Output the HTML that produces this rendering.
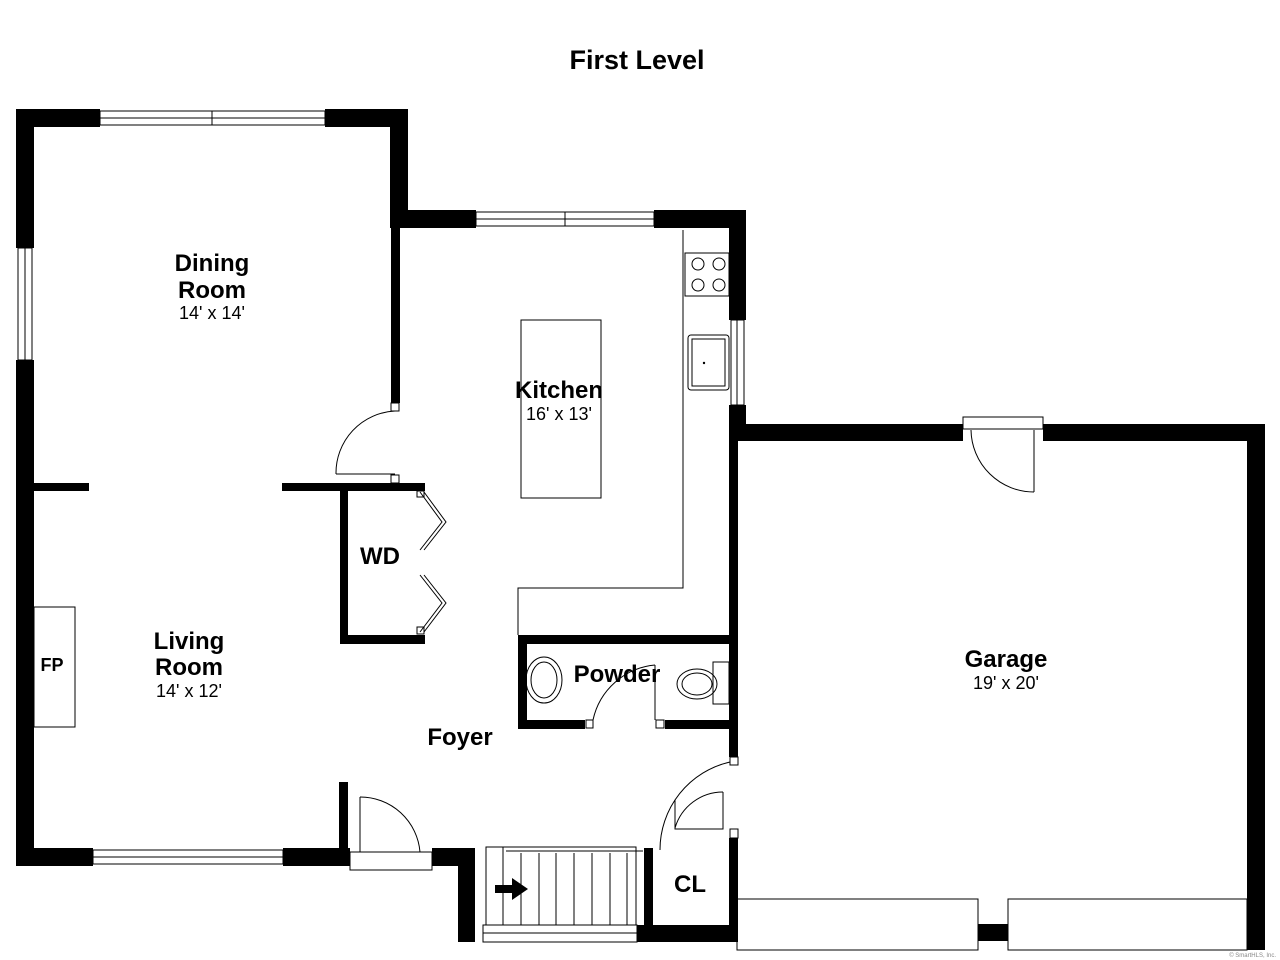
<!DOCTYPE html>
<html><head><meta charset="utf-8"><style>
html,body{margin:0;padding:0;background:#fff;width:1280px;height:960px;overflow:hidden}
text{font-family:"Liberation Sans",sans-serif;fill:#000}
.b{font-weight:bold;font-size:24px}
.s{font-size:18px}
</style></head><body>
<svg width="1280" height="960" viewBox="0 0 1280 960" xmlns="http://www.w3.org/2000/svg">
<text x="637" y="69" text-anchor="middle" style="font-weight:bold;font-size:27px">First Level</text>
<g fill="#000">
<!-- dining/living exterior -->
<rect x="16" y="109" width="84" height="18"/>
<rect x="325" y="109" width="83" height="18"/>
<rect x="16" y="109" width="18" height="139"/>
<rect x="16" y="360" width="18" height="506"/>
<rect x="16" y="848" width="77" height="18"/>
<rect x="283" y="848" width="67" height="18"/>
<rect x="390" y="109" width="18" height="119"/>
<rect x="391" y="200" width="9" height="203"/>
<!-- kitchen top -->
<rect x="400" y="210" width="76" height="18"/>
<rect x="654" y="210" width="92" height="18"/>
<rect x="729" y="210" width="17" height="110"/>
<rect x="729" y="405" width="17" height="20"/>
<!-- garage -->
<rect x="729" y="424" width="234" height="17"/>
<rect x="1043" y="424" width="222" height="17"/>
<rect x="1247" y="424" width="18" height="526"/>
<rect x="729" y="424" width="9" height="333"/>
<rect x="729" y="838" width="9" height="104"/>
<rect x="978" y="924" width="30" height="17"/>
<!-- interior -->
<rect x="34" y="483" width="55" height="8"/>
<rect x="282" y="483" width="143" height="8"/>
<rect x="340" y="491" width="8" height="153"/>
<rect x="340" y="635" width="85" height="9"/>
<rect x="518" y="635" width="211" height="9"/>
<rect x="518" y="635" width="9" height="94"/>
<rect x="518" y="720" width="67" height="9"/>
<rect x="665" y="720" width="64" height="9"/>
<rect x="339" y="782" width="9" height="70"/>
<rect x="432" y="848" width="43" height="18"/>
<rect x="458" y="848" width="17" height="94"/>
<rect x="637" y="925" width="101" height="17"/>
<rect x="644" y="848" width="9" height="94"/>
</g>
<g fill="none" stroke="#000" stroke-width="1">
<!-- windows -->
<rect x="100" y="111" width="225" height="14"/><line x1="100" y1="118" x2="325" y2="118"/><line x1="212" y1="111" x2="212" y2="125"/>
<rect x="18" y="248" width="14" height="112"/><line x1="25" y1="248" x2="25" y2="360"/>
<rect x="93" y="850" width="190" height="14"/><line x1="93" y1="857" x2="283" y2="857"/>
<rect x="476" y="212" width="178" height="14"/><line x1="565" y1="212" x2="565" y2="226"/><line x1="476" y1="219" x2="654" y2="219"/>
<rect x="731" y="320" width="13" height="85"/><line x1="737" y1="320" x2="737" y2="405"/>
<rect x="483" y="925" width="154" height="17"/><line x1="483" y1="933" x2="637" y2="933"/>
<!-- garage doors -->
<rect x="737" y="899" width="241" height="51"/>
<rect x="1008" y="899" width="239" height="51"/>
<!-- garage entry door -->
<rect x="963" y="417" width="80" height="12"/>
<line x1="1034" y1="430" x2="1034" y2="492"/>
<path d="M971 430 A63 63 0 0 0 1034 492"/>
<!-- dining door -->
<rect x="391" y="403" width="8" height="8"/><rect x="391" y="475" width="8" height="8"/>
<line x1="336" y1="474" x2="395" y2="474"/>
<path d="M395 411 A62 62 0 0 0 336 474"/>
<!-- WD bifold -->
<path d="M420 492 L442 522 L420 550 M424 492 L446 522 L424 550"/>
<path d="M420 575 L442 603 L420 632 M424 575 L446 603 L424 632"/>
<rect x="417" y="491" width="7" height="6"/><rect x="417" y="627" width="7" height="7"/>
<!-- kitchen counters -->
<polyline points="683,230 683,588 518,588 518,635"/>
<rect x="685" y="253" width="44" height="43"/>
<circle cx="698" cy="264" r="6"/><circle cx="719" cy="264" r="6"/>
<circle cx="698" cy="285" r="6"/><circle cx="719" cy="285" r="6"/>
<rect x="688" y="335" width="41" height="55" rx="3"/><rect x="692" y="339" width="33" height="47"/>
<rect x="521" y="320" width="80" height="178"/>
<!-- fireplace -->
<rect x="34" y="607" width="41" height="120"/>
<!-- powder -->
<ellipse cx="544" cy="680" rx="18" ry="23"/><ellipse cx="544" cy="680" rx="13" ry="18"/>
<ellipse cx="697" cy="684" rx="20" ry="15"/><ellipse cx="697" cy="684" rx="15" ry="11"/>
<rect x="713" y="662" width="16" height="42"/>
<rect x="586" y="720" width="7" height="8"/><rect x="656" y="720" width="8" height="8"/>
<path d="M593 720 A70 70 0 0 1 655 665"/><line x1="655" y1="665" x2="655" y2="720"/>
<!-- front door -->
<rect x="350" y="852" width="82" height="18"/>
<line x1="360" y1="797" x2="360" y2="852"/>
<path d="M360 797 A60 60 0 0 1 420 852"/>
<!-- closet doors -->
<rect x="730" y="757" width="8" height="8"/>
<path d="M660 850 A90 90 0 0 1 730 762"/>
<path d="M675 828 A50 50 0 0 1 723 792"/>
<polyline points="723,792 723,829 675,829 675,800"/>
<rect x="730" y="829" width="8" height="9"/>
<!-- stairs -->
<rect x="486" y="847" width="150" height="78"/>
<line x1="503" y1="847" x2="503" y2="925"/>
<line x1="506" y1="851" x2="643" y2="851"/>
<g>
<line x1="521" y1="853" x2="521" y2="925"/><line x1="539" y1="853" x2="539" y2="925"/>
<line x1="556" y1="853" x2="556" y2="925"/><line x1="574" y1="853" x2="574" y2="925"/>
<line x1="592" y1="853" x2="592" y2="925"/><line x1="610" y1="853" x2="610" y2="925"/>
<line x1="627" y1="853" x2="627" y2="925"/>
</g>
</g>
<polygon points="495,885 512,885 512,878 528,889 512,900 512,893 495,893" fill="#000"/>
<g fill="#000"><circle cx="704" cy="363" r="1.2"/></g>
<text class="b" x="212" y="271" text-anchor="middle">Dining</text>
<text class="b" x="212" y="298" text-anchor="middle">Room</text>
<text class="s" x="212" y="319" text-anchor="middle">14' x 14'</text>
<text class="b" x="559" y="398" text-anchor="middle">Kitchen</text>
<text class="s" x="559" y="420" text-anchor="middle">16' x 13'</text>
<text class="b" x="380" y="564" text-anchor="middle">WD</text>
<text class="b" x="189" y="649" text-anchor="middle">Living</text>
<text class="b" x="189" y="675" text-anchor="middle">Room</text>
<text class="s" x="189" y="697" text-anchor="middle">14' x 12'</text>
<text x="52" y="671" text-anchor="middle" style="font-weight:bold;font-size:18px">FP</text>
<text class="b" x="617" y="682" text-anchor="middle">Powder</text>
<text class="b" x="460" y="745" text-anchor="middle">Foyer</text>
<text class="b" x="690" y="892" text-anchor="middle">CL</text>
<text class="b" x="1006" y="667" text-anchor="middle">Garage</text>
<text class="s" x="1006" y="689" text-anchor="middle">19' x 20'</text>
<text x="1276" y="957" text-anchor="end" style="font-size:6px;fill:#888">© SmartHLS, Inc.</text>
</svg>
</body></html>
